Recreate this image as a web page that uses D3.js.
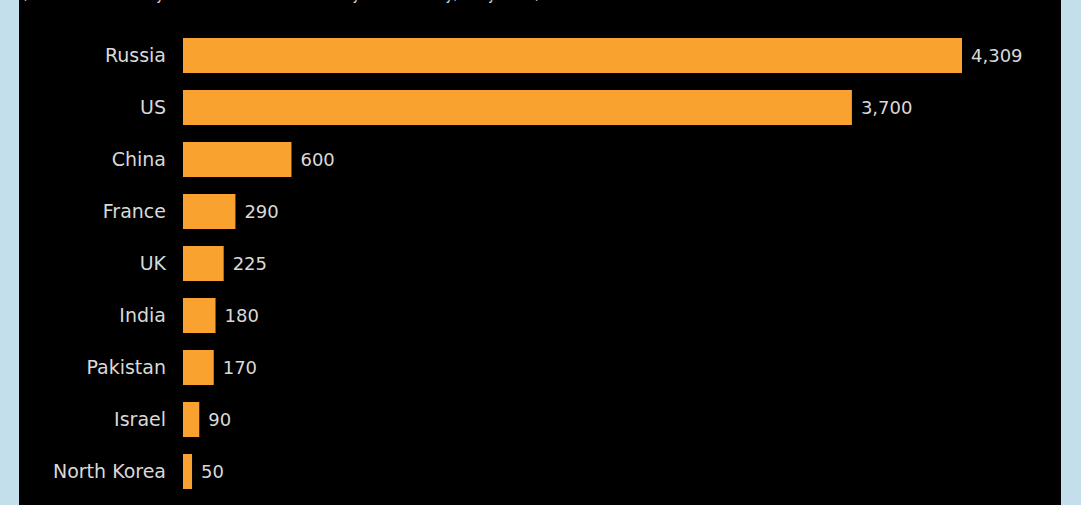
<!DOCTYPE html>
<html>
<head>
<meta charset="utf-8">
<script src="https://cdn.jsdelivr.net/npm/d3@7"></script>
<style>
  html, body { margin: 0; padding: 0; background: #c3dfeb; }
  svg { display: block; }
</style>
</head>
<body>
<svg id="chart" width="1081" height="505"></svg>
<script>
// Nuclear warhead inventories by country
const countries = ["Russia", "US", "China", "France", "UK", "India", "Pakistan", "Israel", "North Korea"];
const warheads = [4309, 3700, 600, 290, 225, 180, 170, 90, 50];
const subtitle = "(Estimated inventory of nuclear warheads held by each country, early 2024)";

const W = 1081, H = 505;
const svg = d3.select("#chart");

// dark chart panel inside the light frame
svg.append("rect")
  .attr("x", 19).attr("y", 0)
  .attr("width", 1061 - 19).attr("height", H)
  .attr("fill", "#000");

const font = "'DejaVu Sans', sans-serif";

// subtitle sitting mostly above the top edge
svg.append("text")
  .attr("x", 22).attr("y", -1)
  .attr("fill", "#cfcfcf")
  .attr("font-family", font)
  .attr("font-size", 17)
  .attr("textLength", 518)
  .attr("lengthAdjust", "spacingAndGlyphs")
  .text(subtitle);

const data = countries.map((c, i) => ({ country: c, value: warheads[i] }));

const y = d3.scaleBand()
  .domain(countries)
  .range([29.5, 497.5])
  .paddingInner(17 / 52)
  .paddingOuter(8.5 / 52);

const x = d3.scaleLinear()
  .domain([0, 4309])
  .range([183, 962]);

svg.append("g").selectAll("rect")
  .data(data)
  .join("rect")
  .attr("x", x(0))
  .attr("y", d => y(d.country))
  .attr("width", d => x(d.value) - x(0))
  .attr("height", y.bandwidth())
  .attr("fill", "#f9a22f");

// category labels (left axis, no line or ticks)
const axis = svg.append("g")
  .attr("transform", `translate(${x(0) - 17},0)`)
  .call(d3.axisLeft(y).tickSize(0).tickPadding(0));
axis.select(".domain").remove();
axis.selectAll("text")
  .attr("fill", "#d9d9d9")
  .attr("font-family", font)
  .attr("font-size", 19);

// value labels at bar ends
svg.append("g").selectAll("text")
  .data(data)
  .join("text")
  .attr("x", d => x(d.value) + 9)
  .attr("y", d => y(d.country) + y.bandwidth() / 2)
  .attr("dy", "0.35em")
  .attr("fill", "#d9d9d9")
  .attr("font-family", font)
  .attr("font-size", 18)
  .text(d => d3.format(",")(d.value));
</script>
</body>
</html>
